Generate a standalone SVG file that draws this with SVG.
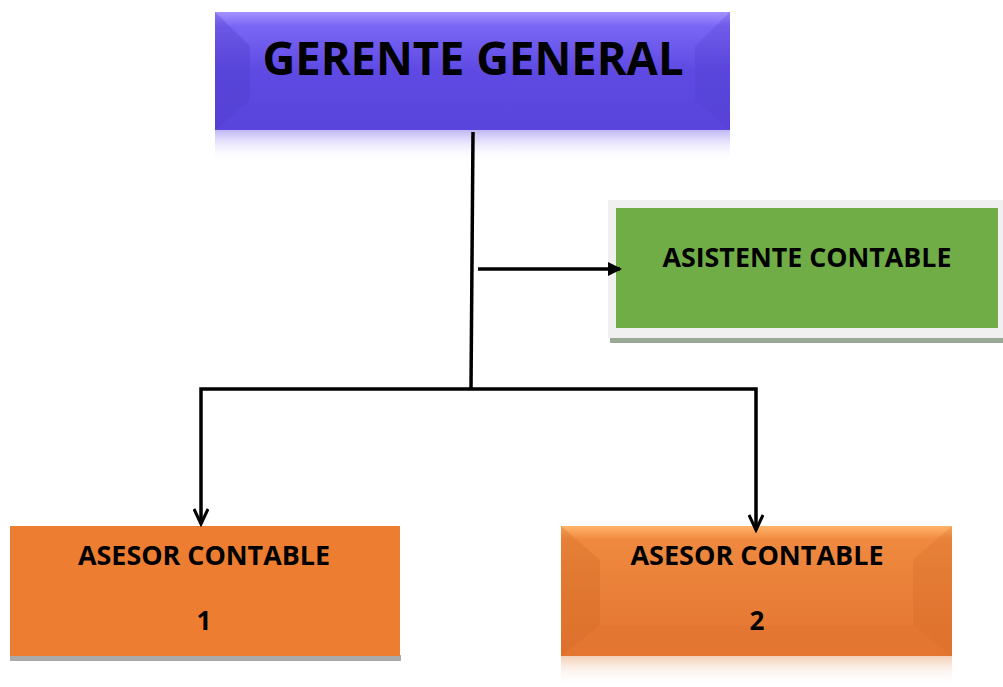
<svg xmlns="http://www.w3.org/2000/svg" width="1003" height="687" viewBox="0 0 1003 687">
<defs>
<style>
.t{font-family:"Open Sans","Liberation Sans",sans-serif;font-weight:bold;fill:#000;text-anchor:middle}
.ln{stroke:#000;stroke-width:3.5;fill:none;stroke-linejoin:miter}
</style>
<linearGradient id="gPurple" x1="0" y1="0" x2="0" y2="1">
<stop offset="0" stop-color="#a492ff"/>
<stop offset="0.12" stop-color="#7a66f5"/>
<stop offset="0.5" stop-color="#5e4ae2"/>
<stop offset="1" stop-color="#5a46dc"/>
</linearGradient>
<linearGradient id="gPurpleRef" x1="0" y1="0" x2="0" y2="1">
<stop offset="0" stop-color="#8a7af0" stop-opacity="0.55"/>
<stop offset="1" stop-color="#ffffff" stop-opacity="0"/>
</linearGradient>
<linearGradient id="gOrange" x1="0" y1="0" x2="0" y2="1">
<stop offset="0" stop-color="#ffb56a"/>
<stop offset="0.1" stop-color="#f08a40"/>
<stop offset="0.5" stop-color="#e97f38"/>
<stop offset="1" stop-color="#e57732"/>
</linearGradient>
<linearGradient id="gOrangeRef" x1="0" y1="0" x2="0" y2="1">
<stop offset="0" stop-color="#e8a070" stop-opacity="0.5"/>
<stop offset="1" stop-color="#ffffff" stop-opacity="0"/>
</linearGradient>
<marker id="aFill" markerWidth="14" markerHeight="14" refX="12" refY="7" orient="auto" markerUnits="userSpaceOnUse">
<path d="M0,0 L14,7 L0,14 Z" fill="#000"/>
</marker>
<marker id="aOpen" markerWidth="20" markerHeight="16" refX="17" refY="8" orient="auto-start-reverse" markerUnits="userSpaceOnUse">
<path d="M2,1 L17,8 L2,15" fill="none" stroke="#000" stroke-width="3"/>
</marker>
</defs>
<rect width="1003" height="687" fill="#fff"/>

<g id="gerente">
<rect x="215" y="130" width="515" height="32" fill="url(#gPurpleRef)"/>
<rect x="215" y="12" width="515" height="118" fill="url(#gPurple)"/>
<polygon points="215,12 250,46 250,100 215,130" fill="#4a38c4" opacity="0.3"/>
<polygon points="730,12 695,46 695,100 730,130" fill="#4a38c4" opacity="0.22"/>
<polygon points="215,130 250,100 695,100 730,130" fill="#5442d8" opacity="0.15"/>
<text class="t" x="473" y="75" font-size="46" textLength="421" lengthAdjust="spacingAndGlyphs">GERENTE GENERAL</text>
</g>

<g id="asistente">
<rect x="610" y="337" width="393" height="6" fill="#9aa896"/>
<rect x="608" y="200" width="395" height="138" fill="#f0f0f0"/>
<rect x="616" y="208" width="382" height="120" fill="#70ad47"/>
<text class="t" x="807" y="267" font-size="26" textLength="289" lengthAdjust="spacingAndGlyphs">ASISTENTE CONTABLE</text>
</g>

<g id="asesor1">
<rect x="10" y="655" width="391" height="6" fill="#aaaaaa"/>
<rect x="10" y="526" width="390" height="130" fill="#ed7d31"/>
<text class="t" x="204" y="565" font-size="26" textLength="252" lengthAdjust="spacingAndGlyphs">ASESOR CONTABLE</text>
<text class="t" x="204" y="630" font-size="26">1</text>
</g>

<g id="asesor2">
<rect x="561" y="656" width="391" height="30" fill="url(#gOrangeRef)"/>
<rect x="561" y="526" width="391" height="130" fill="url(#gOrange)"/>
<polygon points="561,526 600,560 600,625 561,656" fill="#c9601c" opacity="0.25"/>
<polygon points="952,526 913,560 913,625 952,656" fill="#c9601c" opacity="0.2"/>
<polygon points="561,656 600,625 913,625 952,656" fill="#d86a25" opacity="0.15"/>
<text class="t" x="757" y="565" font-size="26" textLength="253" lengthAdjust="spacingAndGlyphs">ASESOR CONTABLE</text>
<text class="t" x="757" y="630" font-size="26">2</text>
</g>

<g id="connectors">
<line class="ln" x1="473" y1="132" x2="471" y2="389"/>
<line class="ln" x1="478" y1="269" x2="620" y2="269" marker-end="url(#aFill)"/>
<polyline class="ln" points="201,524 201,389 756,389 756,530" marker-start="url(#aOpen)" marker-end="url(#aOpen)"/>
</g>
</svg>
